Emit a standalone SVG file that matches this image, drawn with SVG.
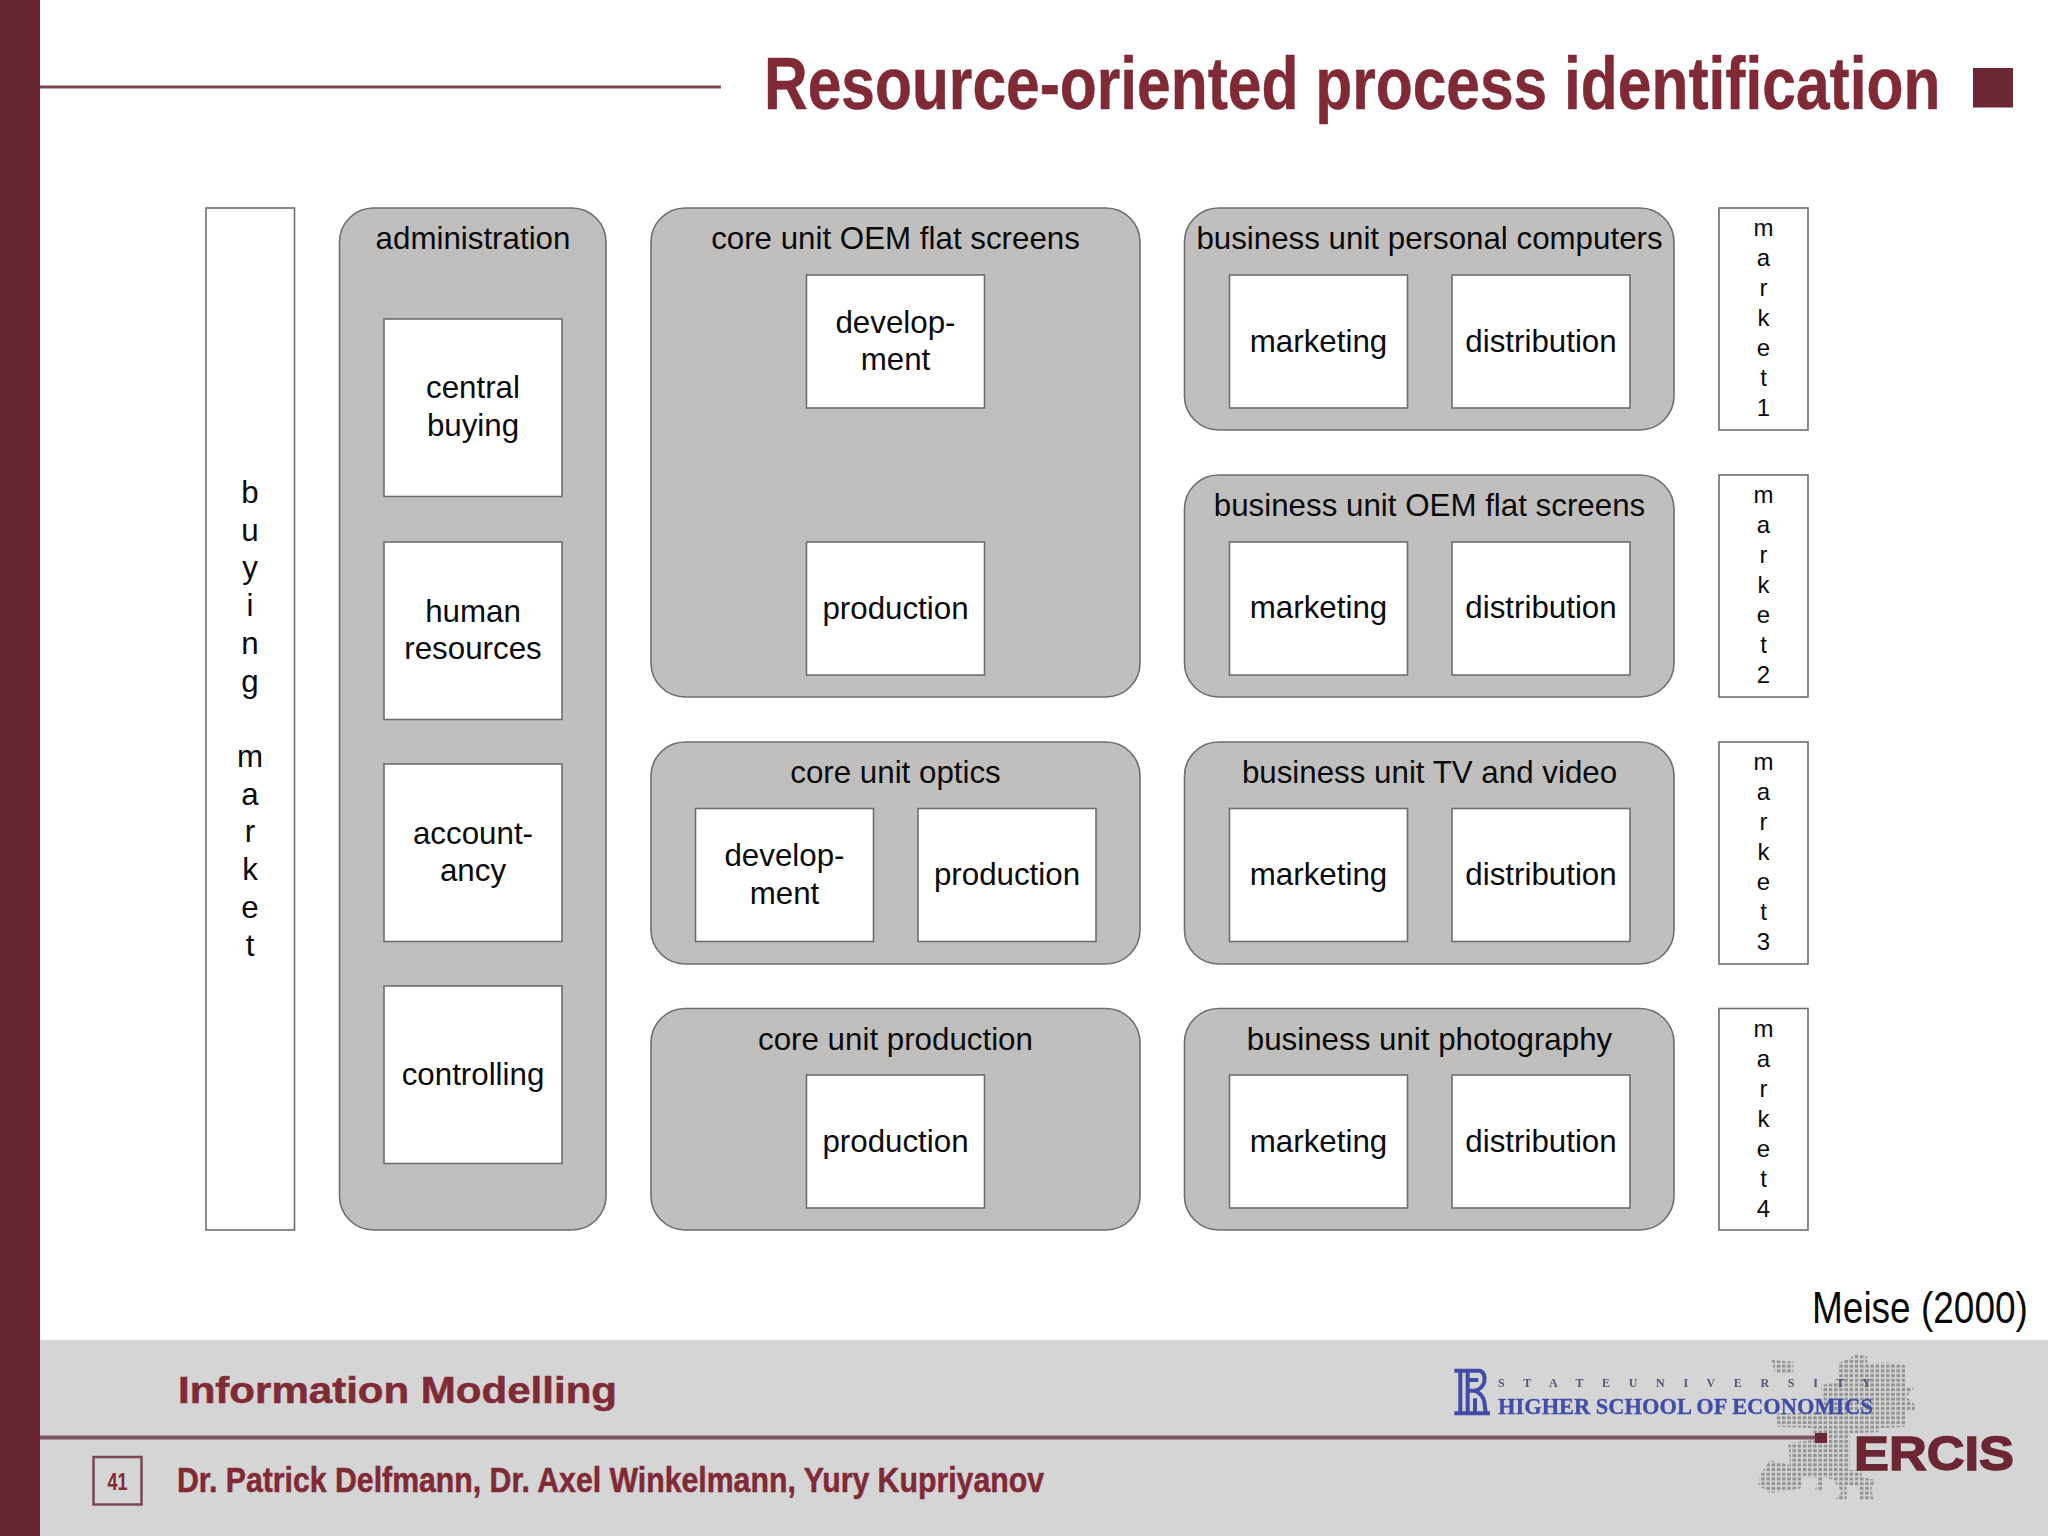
<svg xmlns="http://www.w3.org/2000/svg" width="2048" height="1536" viewBox="0 0 2048 1536">
<style>
text{font-family:"Liberation Sans",Arial,sans-serif}
.p{fill:#c0bfbe;stroke:#6e6e6e;stroke-width:1.6}
.b{fill:#fff;stroke:#6e6e6e;stroke-width:1.6}
.t{font-size:31.3px;fill:#0a0a0a;text-anchor:middle}
.m{font-size:24px;fill:#0a0a0a;text-anchor:middle}
.r{fill:#7f2a35;font-weight:bold;stroke:#7f2a35;stroke-width:.5}
.s{font-family:"Liberation Serif",serif;font-weight:bold}
</style>
<defs>
<pattern id="dots" patternUnits="userSpaceOnUse" width="15.6" height="14.1"><rect x="2.400" y="2.400" width="10.500" height="9.300" fill="#939393"/></pattern>
<filter id="soft" x="-5%" y="-5%" width="110%" height="110%"><feGaussianBlur stdDeviation="0.5"/></filter>
</defs>
<rect width="2048" height="1536" fill="#fff"/>
<rect x="40" y="1340" width="2008" height="196" fill="#d6d5d5"/>
<rect x="0" y="0" width="40" height="1536" fill="#652632"/>
<rect x="40" y="85.500" width="681" height="3" fill="#7a4650"/>
<text id="title" transform="translate(764 109) scale(.8175 1)" font-size="74" class="r">Resource-oriented process identification</text>
<rect x="1973" y="68" width="40" height="39.500" fill="#6b2733"/>

<g id="buying-market"><rect class="b" x="206" y="208" width="88.500" height="1022"/>
<text class="t"><tspan x="250" y="503">b</tspan><tspan x="250" y="540.700">u</tspan><tspan x="250" y="578.400">y</tspan><tspan x="250" y="616.100">i</tspan><tspan x="250" y="653.800">n</tspan><tspan x="250" y="691.500">g</tspan><tspan x="250" y="767">m</tspan><tspan x="250" y="804.700">a</tspan><tspan x="250" y="842.400">r</tspan><tspan x="250" y="880.100">k</tspan><tspan x="250" y="917.800">e</tspan><tspan x="250" y="955.500">t</tspan></text></g>

<g id="administration"><rect class="p" x="339.500" y="208" width="266.500" height="1022" rx="34"/>
<text class="t" x="473" y="249">administration</text>
<rect class="b" x="384" y="319" width="178" height="177.500"/><text class="t"><tspan x="473" y="398">central</tspan><tspan x="473" y="436">buying</tspan></text>
<rect class="b" x="384" y="542" width="178" height="177.500"/><text class="t"><tspan x="473" y="622">human</tspan><tspan x="473" y="659">resources</tspan></text>
<rect class="b" x="384" y="764" width="178" height="177.500"/><text class="t"><tspan x="473" y="844">account-</tspan><tspan x="473" y="881">ancy</tspan></text>
<rect class="b" x="384" y="986" width="178" height="177.500"/><text class="t" x="473" y="1085">controlling</text></g>

<g id="core-oem"><rect class="p" x="651" y="208" width="489" height="489" rx="34"/>
<text class="t" x="895.500" y="249">core unit OEM flat screens</text>
<rect class="b" x="806.500" y="275" width="178" height="133"/><text class="t"><tspan x="895.500" y="333">develop-</tspan><tspan x="895.500" y="370">ment</tspan></text>
<rect class="b" x="806.500" y="542" width="178" height="133"/><text class="t" x="895.500" y="619">production</text></g>

<g id="core-optics"><rect class="p" x="651" y="742" width="489" height="222" rx="34"/>
<text class="t" x="895.500" y="783">core unit optics</text>
<rect class="b" x="695.500" y="808.500" width="178" height="133"/><text class="t"><tspan x="784.500" y="866">develop-</tspan><tspan x="784.500" y="904">ment</tspan></text>
<rect class="b" x="918" y="808.500" width="178" height="133"/><text class="t" x="1007" y="885">production</text></g>

<g id="core-production"><rect class="p" x="651" y="1008.500" width="489" height="221.500" rx="34"/>
<text class="t" x="895.500" y="1050">core unit production</text>
<rect class="b" x="806.500" y="1075" width="178" height="133"/><text class="t" x="895.500" y="1152">production</text></g>

<g id="bu-pc"><rect class="p" x="1184.500" y="208" width="489.500" height="222" rx="34"/>
<text class="t" x="1429.500" y="249">business unit personal computers</text>
<rect class="b" x="1229.500" y="275" width="178" height="133"/><text class="t" x="1318.500" y="352">marketing</text>
<rect class="b" x="1452" y="275" width="178" height="133"/><text class="t" x="1541" y="352">distribution</text></g>

<g id="bu-oem"><rect class="p" x="1184.500" y="475" width="489.500" height="222" rx="34"/>
<text class="t" x="1429.500" y="516">business unit OEM flat screens</text>
<rect class="b" x="1229.500" y="542" width="178" height="133"/><text class="t" x="1318.500" y="618">marketing</text>
<rect class="b" x="1452" y="542" width="178" height="133"/><text class="t" x="1541" y="618">distribution</text></g>

<g id="bu-tv"><rect class="p" x="1184.500" y="742" width="489.500" height="222" rx="34"/>
<text class="t" x="1429.500" y="783">business unit TV and video</text>
<rect class="b" x="1229.500" y="808.500" width="178" height="133"/><text class="t" x="1318.500" y="885">marketing</text>
<rect class="b" x="1452" y="808.500" width="178" height="133"/><text class="t" x="1541" y="885">distribution</text></g>

<g id="bu-photo"><rect class="p" x="1184.500" y="1008.500" width="489.500" height="221.500" rx="34"/>
<text class="t" x="1429.500" y="1050">business unit photography</text>
<rect class="b" x="1229.500" y="1075" width="178" height="133"/><text class="t" x="1318.500" y="1152">marketing</text>
<rect class="b" x="1452" y="1075" width="178" height="133"/><text class="t" x="1541" y="1152">distribution</text></g>

<g id="market1"><rect class="b" x="1719" y="208" width="89" height="222"/>
<text class="m"><tspan x="1763.500" y="236">m</tspan><tspan x="1763.500" y="266">a</tspan><tspan x="1763.500" y="296">r</tspan><tspan x="1763.500" y="326">k</tspan><tspan x="1763.500" y="356">e</tspan><tspan x="1763.500" y="386">t</tspan><tspan x="1763.500" y="416">1</tspan></text></g>
<g id="market2"><rect class="b" x="1719" y="475" width="89" height="222"/>
<text class="m"><tspan x="1763.500" y="503">m</tspan><tspan x="1763.500" y="533">a</tspan><tspan x="1763.500" y="563">r</tspan><tspan x="1763.500" y="593">k</tspan><tspan x="1763.500" y="623">e</tspan><tspan x="1763.500" y="653">t</tspan><tspan x="1763.500" y="683">2</tspan></text></g>
<g id="market3"><rect class="b" x="1719" y="742" width="89" height="222"/>
<text class="m"><tspan x="1763.500" y="770">m</tspan><tspan x="1763.500" y="800">a</tspan><tspan x="1763.500" y="830">r</tspan><tspan x="1763.500" y="860">k</tspan><tspan x="1763.500" y="890">e</tspan><tspan x="1763.500" y="920">t</tspan><tspan x="1763.500" y="950">3</tspan></text></g>
<g id="market4"><rect class="b" x="1719" y="1008.500" width="89" height="221.500"/>
<text class="m"><tspan x="1763.500" y="1037">m</tspan><tspan x="1763.500" y="1067">a</tspan><tspan x="1763.500" y="1097">r</tspan><tspan x="1763.500" y="1127">k</tspan><tspan x="1763.500" y="1157">e</tspan><tspan x="1763.500" y="1187">t</tspan><tspan x="1763.500" y="1217">4</tspan></text></g>

<text transform="translate(1812 1323) scale(.822 1)" font-size="45" fill="#0a0a0a">Meise (2000)</text>

<g id="footer">
<path transform="translate(1750 1345) scale(.3333)" fill="url(#dots)" d="M265,55 L300,40 L320,25 L352,35 L352,55 L410,52 L465,60 L465,125 L495,125 L470,155 L495,180 L495,195 L465,195 L465,245 L385,250 L385,262 L300,265 L300,375 L335,375 L335,395 L375,405 L365,430 L370,465 L330,465 L325,425 L290,420 L290,465 L255,465 L275,440 L250,405 L220,395 L215,440 L195,435 L205,400 L160,395 L155,430 L60,445 L25,420 L30,390 L60,345 L120,360 L115,295 L190,285 L190,250 L85,245 L75,205 L130,205 L215,200 L215,120 L265,110 Z M65,45 L130,50 L130,85 L75,85 Z"/>
<rect x="40" y="1435.500" width="1780" height="4" fill="#7e5660"/>
<rect x="1815" y="1433" width="12" height="10" fill="#6b2733"/>
<text x="178" y="1403" font-size="36" class="r" textLength="439" lengthAdjust="spacingAndGlyphs">Information Modelling</text>
<rect x="93.500" y="1457" width="48" height="47.500" fill="none" stroke="#7a4650" stroke-width="2.500"/>
<text x="117.500" y="1490" font-size="23" fill="#7f2a35" text-anchor="middle" textLength="20" lengthAdjust="spacingAndGlyphs" style="font-weight:bold">41</text>
<text x="177" y="1491.500" font-size="35" class="r" textLength="867" lengthAdjust="spacingAndGlyphs">Dr. Patrick Delfmann, Dr. Axel Winkelmann, Yury Kupriyanov</text>
<g filter="url(#soft)">
<path transform="translate(1445 1360) scale(.3333)" fill="none" stroke="#3f4da6" stroke-width="12" d="M28,32 H105 Q122,40 118,65 Q112,88 88,92 Q112,100 118,125 L122,158 M28,160 H135 M46,32 V160 M68,32 V160 M90,115 V160 M70,92 H95 M70,60 H100"/>
<text class="s" x="1498" y="1387" font-size="12" fill="#50557a" textLength="373">S T A T E   U N I V E R S I T Y</text>
<text class="s" x="1498" y="1414" font-size="24" fill="#3f4da6" stroke="#3f4da6" stroke-width=".3" textLength="375" lengthAdjust="spacingAndGlyphs">HIGHER SCHOOL OF ECONOMICS</text>
<text x="1854" y="1470" font-size="49" font-weight="bold" fill="#6b2733" stroke="#6b2733" stroke-width="1.500" textLength="160" lengthAdjust="spacingAndGlyphs">ERCIS</text>
</g>
</g>
</svg>
